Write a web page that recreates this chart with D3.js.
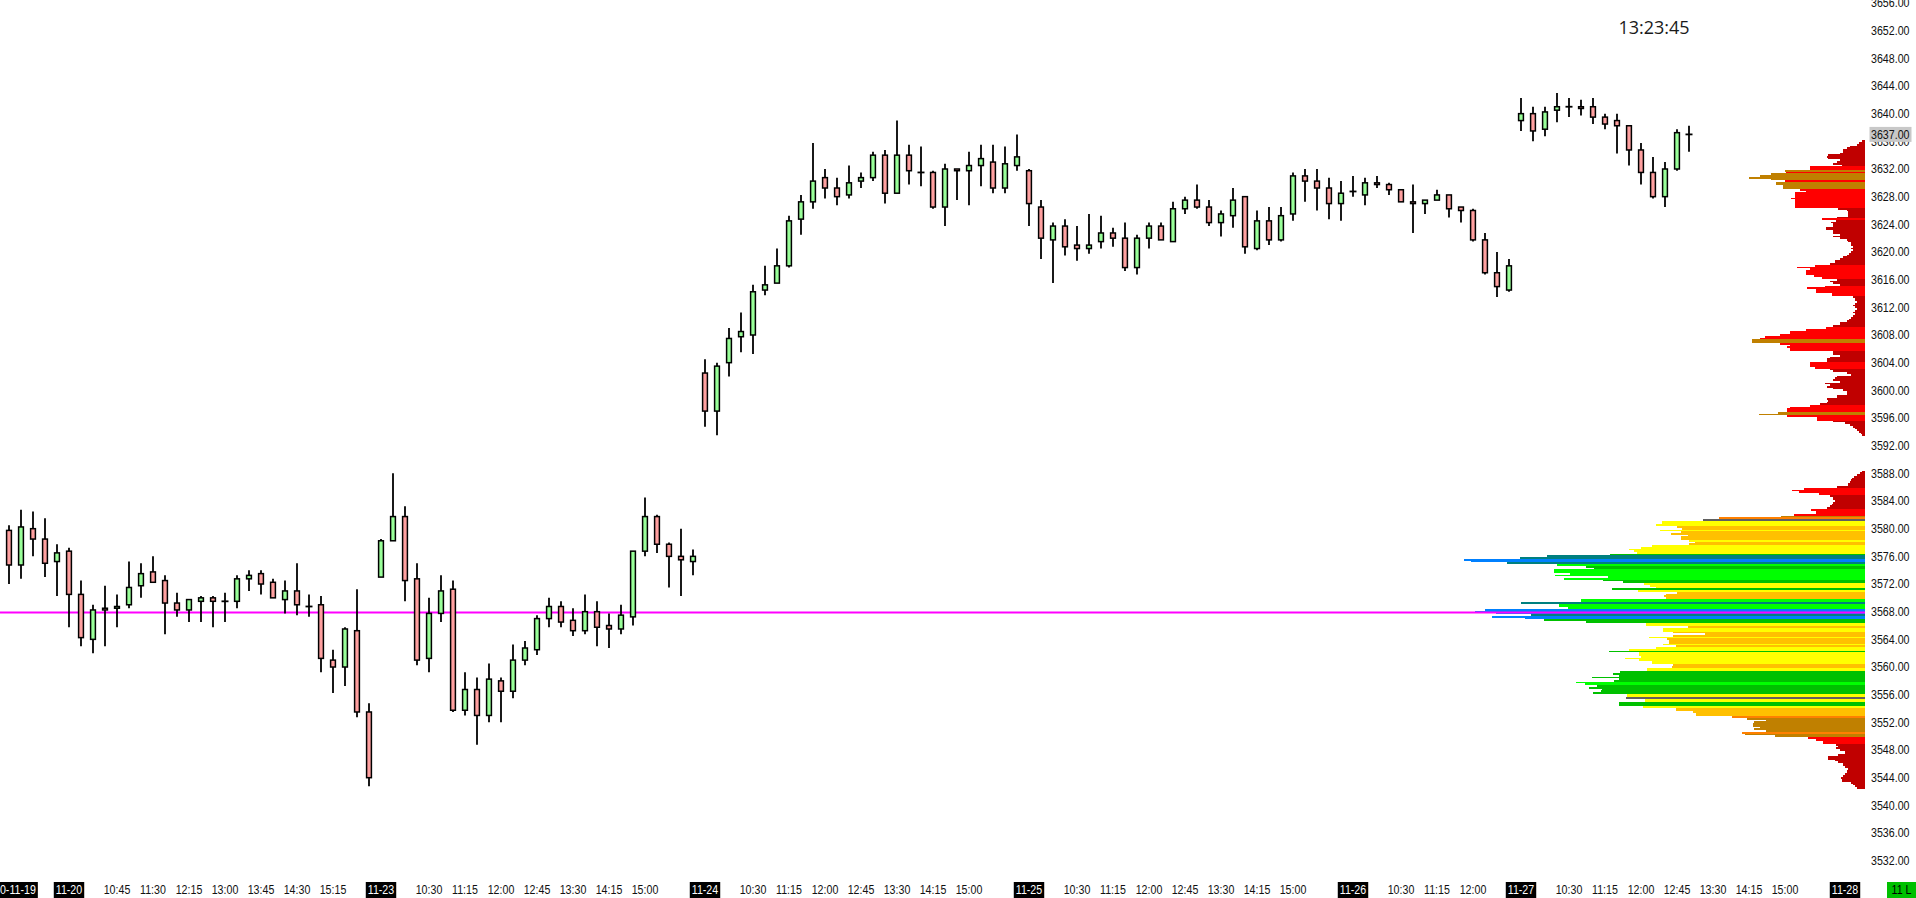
<!DOCTYPE html>
<html><head><meta charset="utf-8">
<script src="https://cdn.jsdelivr.net/npm/d3@7"></script>
<style>html,body{margin:0;padding:0;background:#fff;overflow:hidden}</style>
</head><body><svg id="c" width="1916" height="898"></svg>
<script>
// ---------- DATA ----------
const opens = [3579.75,3574.75,3580,3578.5,3575.25,3576.75,3570.5,3564,3568.5,3568.5,
 3569,3571.75,3573.75,3572.5,3569.25,3568.25,3569.5,3570,3569.5,3569.5,
 3572.75,3573.5,3572.25,3569.75,3571,3568.75,3569,3561,3560,3565.25,
 3553.5,3573,3578.25,3581.75,3572.75,3561.25,3567.75,3571.25,3553.75,3556.75,
 3553,3558,3556.5,3561,3562.5,3567,3568.75,3566.75,3565.25,3568,
 3566,3565.5,3567.25,3576.75,3581.75,3577.75,3576,3575.25,3602.5,3597,
 3604,3607.75,3608,3614.5,3615.5,3618,3624.75,3627.25,3630.75,3629.25,
 3628.25,3630.25,3630.75,3634,3628.5,3634,3631.5,3631.5,3626.5,3632,
 3631.75,3632.5,3633,3629.25,3632.5,3631.75,3626.5,3621.75,3623.75,3621,
 3620.5,3621.5,3622.75,3622,3617.75,3622,3623.75,3621.5,3626.25,3627.5,
 3626.5,3624.25,3625.25,3628,3620.5,3624.5,3621.75,3625.5,3631,3630.25,
 3629.25,3627,3628.75,3628.25,3630,3629.75,3629,3627.25,3627,3627.5,
 3628.25,3626.5,3626,3621.75,3617,3614.5,3639,3640,3637.75,3640.5,
 3641,3641,3641,3639.5,3639,3638.25,3634.75,3631.5,3628,3632,
 3637];
const highs = [3580.5,3582.75,3582.5,3581.5,3577.75,3577.25,3572.5,3569,3571.75,3570.5,
 3575.25,3575,3576,3573.25,3570.75,3569.75,3570.25,3570.25,3570.75,3573.25,
 3574,3574,3572.75,3572.5,3575,3570.5,3570.25,3562.5,3565.75,3571.25,
 3554.75,3578.5,3588,3583.25,3575,3570,3573.25,3572.5,3559.25,3558.5,
 3560.5,3558.5,3563.25,3563.75,3567.5,3570,3569.5,3568.5,3570.5,3569.5,
 3567.75,3569,3576.75,3584.5,3582,3578,3580,3577,3604.5,3604,
 3609,3611.25,3615.25,3618,3620.5,3625.25,3628.25,3635.75,3632,3630.75,
 3632.5,3631.5,3634.5,3634.75,3639,3635.5,3635.25,3631.75,3632.75,3632,
 3634.5,3635.5,3635.5,3635.25,3637,3632,3627.5,3624.25,3624.75,3623.75,
 3625.5,3625.25,3623.5,3624.25,3622.5,3624.25,3624.25,3627.25,3628,3629.75,
 3627.5,3626,3629.25,3628,3626,3626.5,3626.5,3631.5,3632,3632,
 3630.75,3630.25,3631,3630.75,3631,3630,3629,3629.75,3627.5,3629,
 3628.25,3626.5,3626.25,3622.75,3620,3619,3642.25,3641,3641,3643,
 3642.25,3642,3642.25,3640,3640,3638.25,3635.75,3633.75,3633,3637.75,
 3638.25];
const lows = [3572,3572.75,3576,3573,3570.25,3565.75,3563,3562,3563,3565.75,
 3568.5,3570,3572.25,3564.75,3567.25,3566.5,3566.5,3565.75,3566.5,3568.5,
 3571,3570.5,3570,3567.75,3567.5,3567.25,3559.25,3556.25,3557.25,3552.75,
 3542.75,3573,3578.25,3569.5,3560.25,3559.25,3566.5,3553.5,3553,3548.75,
 3552,3552,3555.5,3560.25,3561.75,3565.75,3565.75,3564.5,3564.75,3563,
 3562.75,3564.75,3566,3576,3576.5,3571.5,3570.25,3573.25,3594.75,3593.5,
 3602,3605.5,3605.25,3613.75,3615.5,3617.75,3622.5,3626.25,3627.75,3626.75,
 3627.75,3629.25,3630.25,3627,3628.5,3629.75,3629.5,3626.25,3623.75,3627.5,
 3626.75,3629.5,3628.5,3628.5,3631.75,3623.75,3619,3615.5,3619.5,3618.75,
 3619.75,3620.5,3620.75,3617.25,3616.75,3620.5,3621.75,3621.5,3625.5,3626.25,
 3623.75,3622.25,3623.5,3619.75,3620.25,3621,3621.5,3624.5,3627.25,3626,
 3624.75,3624.5,3628,3626.75,3629.25,3628.25,3627.25,3622.75,3625.5,3627.5,
 3625,3624.25,3621.5,3616.75,3613.5,3614.25,3637.5,3636,3636.75,3638.75,
 3639.5,3639.75,3638.5,3637.75,3634.25,3632.5,3629.75,3627.75,3626.5,3631.75,
 3634.5];
const closes = [3574.75,3580.25,3578.5,3575,3576.5,3570.5,3564.25,3568.25,3568.25,3568.75,
 3571.5,3573.5,3572.25,3569.25,3568.25,3569.75,3570,3569.5,3569.5,3572.75,
 3573.25,3572,3570,3571,3569,3568.75,3561.25,3560,3565.5,3553.5,
 3544,3578.25,3581.75,3572.5,3561,3567.75,3571,3553.75,3556.75,3553,
 3558.25,3556.5,3561,3562.75,3567,3568.75,3566.5,3565.25,3568,3565.75,
 3565.5,3567.5,3576.75,3581.75,3577.75,3576,3575.5,3576,3597,3603.5,
 3607.5,3608.5,3614.25,3615.25,3618,3624.5,3627.25,3630.25,3629.25,3628,
 3630,3630.75,3634,3628.5,3634,3631.75,3631.5,3626.5,3632,3631.75,
 3632.5,3633.5,3629.25,3632.75,3633.75,3627,3622,3623.75,3620.75,3620.5,
 3621,3622.75,3622,3617.75,3622,3623.75,3621.75,3626.25,3627.5,3626.5,
 3624.25,3625.5,3627.5,3620.75,3624.5,3621.75,3625.25,3631,3630.25,3629.25,
 3627,3628.5,3628.75,3630,3629.75,3629,3627.25,3627,3627.5,3628.25,
 3626.25,3626,3621.75,3617,3615,3618,3640,3637.5,3640.25,3641,
 3641,3640.75,3639.5,3638.5,3638.25,3634.75,3631.5,3628,3632,3637.25,
 3637];

const dateLabels = ["2020-11-19","11-20","11-23","11-24","11-25","11-26","11-27","11-28"];
const dateLabelBars = [0,5,31,58,85,112,126,153];
const timeLabels = ["10:45","11:30","12:15","13:00","13:45","14:30","15:15",
 "10:30","11:15","12:00","12:45","13:30","14:15","15:00",
 "10:30","11:15","12:00","12:45","13:30","14:15","15:00",
 "10:30","11:15","12:00","12:45","13:30","14:15","15:00",
 "10:30","11:15","12:00",
 "10:30","11:15","12:00","12:45","13:30","14:15","15:00"];
const timeLabelBars = [9,12,15,18,21,24,27, 35,38,41,44,47,50,53, 62,65,68,71,74,77,80,
 89,92,95,98,101,104,107, 116,119,122, 130,133,136,139,142,145,148];

const priceTicks = [3532,3536,3540,3544,3548,3552,3556,3560,3564,3568,3572,3576,3580,3584,3588,3592,3596,3600,3604,3608,3612,3616,3620,3624,3628,3632,3636,3640,3644,3648,3652,3656];
const lastPrice = 3637.00;
const pocPrice = 3567.875;
const clockText = "13:23:45";
const badgeText = "11 L";

// volume profiles (one value per 0.25 price tick, top to bottom)
const TICK = 0.25;
const lowerProfileTop = 3588.25;
const lowerProfileVol = [3,5,
 8,11,13,14, 15,17,17,28, 61,73,66,46, 35,32,32,30, 32,33,35,38, 54,49,49,71,
 84,146,162,203, 203,209,188,183, 205,184,194,177, 184,184,176,170, 176,213,224,236,
 231,228,255,318, 345,401,394,358, 308,279,271,311, 311,295,310,257, 301,262,242,221,
 215,209,253,227, 188,199,201,199, 284,284,344,306, 306,297,380,390, 369,334,373,340,
 321,279,219,219, 177,202,202,192, 160,192,216,198, 196,196,202,189, 209,236,256,226,
 226,224,240,226, 213,213,192,193, 218,218,245,252, 246,273,246,251, 289,280,268,276,
 263,264,272,238, 238,239,220,220, 246,246,222,189, 189,172,169,169, 133,118,99,111,
 112,112,105,111, 99,123,120,90, 57,49,42,42, 29,27,29,25, 20,20,27,37,
 37,30,27,22, 22,20,17,18, 18,20,22,24, 23,23,14,12, 10,8];
const lowerProfileCol = ("DD"+"DDDD"+"DDDD"+"RRRR"+"DDDD"+"DDDD"+"RRRR"+"BOAY"+"YYGG"+"YGGG"+"GGYG"+"GYYY"+
 "YYgT"+"TUUT"+"LggL"+"LLLL"+"LggY"+"YYgY"+"GGGG"+"LLTL"+"LLUU"+"UTUU"+"ggYY"+"GYYG"+"GGYG"+"GGYG"+
 "YYgY"+"YYYY"+"YYGG"+"YYgg"+"gggg"+"LLgg"+"gggY"+"YAYY"+"ggYG"+"GGGG"+"OBBB"+"BBBB"+"BOBB"+"RRRR"+
 "DDDD"+"DDDD"+"DDDD"+"DDDD"+"DDDD"+"DDDD"+"DD").split("");
const upperProfileTop = 3636.0;
const upperProfileVol = [3,
 6,8,15,18, 22,22,25,37, 38,37,25,28, 32,23,55,55, 80,79,94,105, 116,94,80,89,
 89,82,82,65, 59,70,70,70, 74,70,70,70, 70,70,27,18, 17,17,17,28, 43,29,34,32,
 32,39,39,32, 32,25,32,25, 18,17,14,14, 12,14,12,14, 16,18,22,25, 30,30,35,50,
 68,55,59,59, 59,51,43,28, 35,32,25,40, 58,49,49,33, 33,12,10,10, 8,10,12,10,
 8,10,12,10, 12,14,16,18, 25,25,32,39, 59,75,75,85, 100,105,113,113, 85,75,78,75,
 75,32,32,25, 35,38,38,55, 55,55,50,35, 32,18,14,28, 30,32,25,40, 35,38,32,22,
 18,18,28,28, 38,37,38,45, 55,75,78,78, 87,106,78,48, 48,32,20,15, 12,10,8,6, 4,3];
const upperProfileCol = ("D"+"DDDD"+"DDDD"+"DDDD"+"DDRR"+"BRBB"+"BBRB"+"BBBR"+"RRRR"+"RRRR"+"RRDD"+"DDDD"+
 "RDDD"+"DDDD"+"DDDD"+"DDDD"+"DDDD"+"DDDD"+"DDDR"+"RRRR"+"RRRD"+"DDDR"+"RRRR"+"RDDD"+"DDDD"+"DDDD"+
 "DDDD"+"DDDR"+"RRRR"+"RRBB"+"RRRR"+"RDDD"+"DDDR"+"RRRD"+"DDDD"+"DDDD"+"DDDD"+"DDDD"+"DDDD"+"RRRR"+
 "BBRR"+"RDDD"+"DDDD"+"DD").split("");

// ---------- STYLE ----------
const colorMap = {D:"#c00000",R:"#ff0000",O:"#ff8000",B:"#c08000",G:"#ffc000",Y:"#ffff00",
 g:"#00c000",L:"#00ff00",T:"#008080",U:"#0080ff",A:"#606060"};
const upFill = "#99ff99", downFill = "#ffa0a0";
const FONT = "'Liberation Sans', Arial, sans-serif";
const SX = 0.82;

// ---------- SCALES ----------
const svg = d3.select("#c");
svg.append("rect").attr("width",1916).attr("height",898).attr("fill","#fff");
const y = d3.scaleLinear().domain([3532,3656]).range([860.7,2.98]);
const x = d3.scaleLinear().domain([0,153]).range([9,1845]);
const profileRight = 1865;
const vx = d3.scaleLinear().domain([0,415]).range([0,415]);

// ---------- PROFILES ----------
function drawProfile(top, vols, cols){
  const rows = vols.map((v,i)=>({p: top - i*TICK, v, c: cols[i]}));
  svg.append("g").attr("shape-rendering","crispEdges")
    .selectAll("rect").data(rows).join("rect")
    .attr("x", d=>profileRight - vx(d.v))
    .attr("width", d=>vx(d.v))
    .attr("y", d=>y(d.p + TICK/2))
    .attr("height", d=>y(d.p - TICK/2) - y(d.p + TICK/2))
    .attr("fill", d=>colorMap[d.c]);
}
drawProfile(upperProfileTop, upperProfileVol, upperProfileCol);
drawProfile(lowerProfileTop, lowerProfileVol, lowerProfileCol);

// POC line
svg.append("line").attr("x1",0).attr("x2",profileRight)
  .attr("y1",y(pocPrice)).attr("y2",y(pocPrice))
  .attr("stroke","#ff00ff").attr("stroke-width",2);

// ---------- CANDLES ----------
const bars = opens.map((o,i)=>({i,o,h:highs[i],l:lows[i],c:closes[i]}));
const cg = svg.append("g");
cg.selectAll("line.w").data(bars).join("line").attr("class","w")
  .attr("x1",d=>x(d.i)).attr("x2",d=>x(d.i))
  .attr("y1",d=>y(d.h)).attr("y2",d=>y(d.l))
  .attr("stroke","#000").attr("stroke-width",1.8);
cg.selectAll("rect.b").data(bars.filter(d=>d.o!==d.c)).join("rect").attr("class","b")
  .attr("x",d=>x(d.i)-2.4).attr("width",4.8)
  .attr("y",d=>y(Math.max(d.o,d.c)))
  .attr("height",d=>y(Math.min(d.o,d.c))-y(Math.max(d.o,d.c)))
  .attr("fill",d=>d.c>d.o?upFill:downFill)
  .attr("stroke","#000").attr("stroke-width",1.5);
cg.selectAll("line.d").data(bars.filter(d=>d.o===d.c)).join("line").attr("class","d")
  .attr("x1",d=>x(d.i)-3.5).attr("x2",d=>x(d.i)+3.5)
  .attr("y1",d=>y(d.o)).attr("y2",d=>y(d.o))
  .attr("stroke","#000").attr("stroke-width",1.8);

// ---------- TEXT ----------
function txt(g, tx, ty, s, anchor, fill, size){
  return g.append("text")
    .attr("transform",`translate(${tx},${ty}) scale(${SX},1)`)
    .attr("text-anchor",anchor).attr("dominant-baseline","central")
    .attr("font-family",FONT).attr("font-size",size||13)
    .attr("fill",fill).text(s);
}
// price axis
const ag = svg.append("g");
priceTicks.forEach(v=>txt(ag,1871,y(v),v.toFixed(2),"start","#111"));
const lp = svg.append("g");
lp.append("rect").attr("x",1869.5).attr("y",y(lastPrice)-7.5).attr("width",42).attr("height",15).attr("fill","#c8c8c8");
txt(lp,1871,y(lastPrice),lastPrice.toFixed(2),"start","#111");

// time axis
const tg = svg.append("g");
const AXY = 890;
timeLabels.forEach((s,k)=>txt(tg,x(timeLabelBars[k]),AXY,s,"middle","#111"));
dateLabels.forEach((s,k)=>{
  const g = tg.append("g");
  const r = g.append("rect").attr("fill","#000");
  const t = txt(g,x(dateLabelBars[k]),AXY,s,"middle","#fff");
  const w = t.node().getComputedTextLength()*SX + 4;
  r.attr("x",x(dateLabelBars[k])-w/2).attr("y",882).attr("width",w).attr("height",16);
});
const bg = svg.append("g");
bg.append("rect").attr("x",1887).attr("y",882).attr("width",29).attr("height",16).attr("fill","#00c000");
txt(bg,1901.5,AXY,badgeText,"middle","#000");

// clock
svg.append("text").attr("x",1654).attr("y",27).attr("text-anchor","middle")
  .attr("dominant-baseline","central").attr("font-family","'Open Sans', 'Noto Sans', sans-serif")
  .attr("font-size",18).attr("fill","#1a1a1a").text(clockText);
</script>
</body></html>
